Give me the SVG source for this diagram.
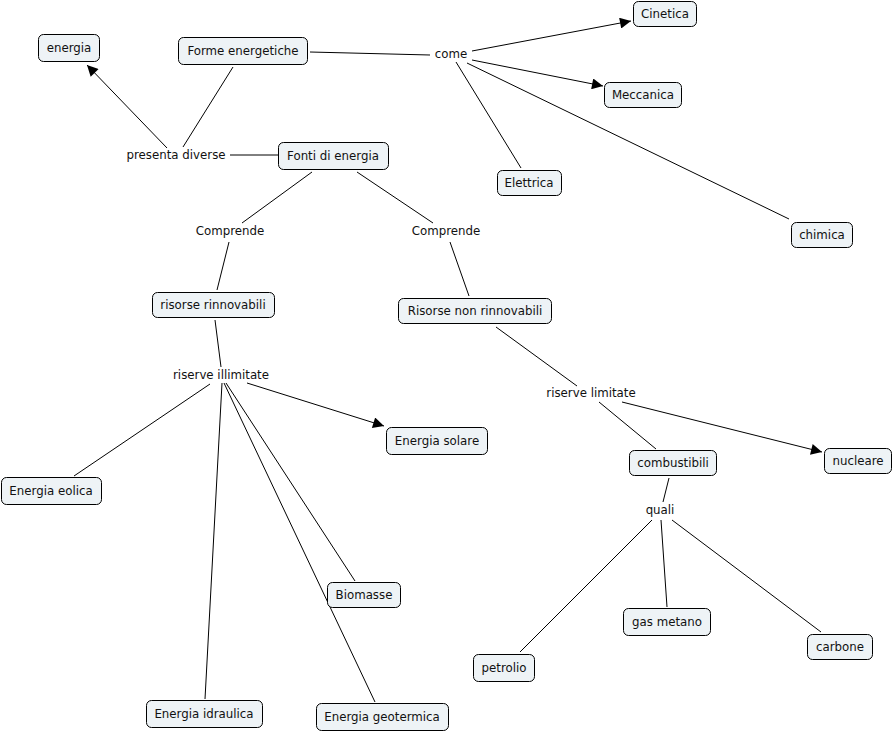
<svg xmlns="http://www.w3.org/2000/svg" width="894" height="732" viewBox="0 0 894 732">
<style>
.n rect{fill:#eef3f6;stroke:#000;stroke-width:1}
text{font-family:"DejaVu Sans",Verdana,sans-serif;font-size:11.8px;fill:#111;text-anchor:middle}
.c line{stroke:#000;stroke-width:1}
.a{marker-end:url(#ah)}
</style>
<defs>
<marker id="ah" viewBox="0 0 10 10" refX="10" refY="5" markerWidth="13" markerHeight="11" markerUnits="userSpaceOnUse" orient="auto">
<path d="M0,0 L10,5 L0,10 z" fill="#000"/>
</marker>
</defs>
<rect width="894" height="732" fill="#fff"/>
<g class="c" id="connectors">
<line x1="167" y1="148" x2="87" y2="65" class="a"/>
<line x1="233" y1="67" x2="183" y2="147"/>
<line x1="230" y1="155" x2="278" y2="155"/>
<line x1="310" y1="52" x2="430" y2="55"/>
<line x1="472" y1="51" x2="631" y2="21" class="a"/>
<line x1="472" y1="60" x2="603" y2="86" class="a"/>
<line x1="456" y1="62" x2="521" y2="168"/>
<line x1="467" y1="63" x2="789" y2="219"/>
<line x1="312" y1="172" x2="242" y2="223"/>
<line x1="357" y1="172" x2="433" y2="223"/>
<line x1="229" y1="242" x2="217" y2="290"/>
<line x1="450" y1="242" x2="469" y2="296"/>
<line x1="215" y1="320" x2="221" y2="367"/>
<line x1="210" y1="384" x2="74" y2="476"/>
<line x1="247" y1="383" x2="384" y2="426" class="a"/>
<line x1="222" y1="383" x2="205" y2="699"/>
<line x1="224" y1="383" x2="375" y2="702"/>
<line x1="226" y1="383" x2="355" y2="581"/>
<line x1="496" y1="327" x2="577" y2="386"/>
<line x1="599" y1="402" x2="656" y2="449"/>
<line x1="622" y1="402" x2="822" y2="452" class="a"/>
<line x1="669" y1="478" x2="663" y2="502"/>
<line x1="652" y1="520" x2="520" y2="652"/>
<line x1="661" y1="520" x2="667" y2="607"/>
<line x1="672" y1="520" x2="821" y2="632"/>
</g>
<g id="lbl-presenta"><text x="176" y="159">presenta diverse</text></g>
<g id="lbl-come"><text x="451" y="58">come</text></g>
<g id="lbl-comprende1"><text x="230" y="235">Comprende</text></g>
<g id="lbl-comprende2"><text x="446" y="235">Comprende</text></g>
<g id="lbl-illimitate"><text x="221" y="379">riserve illimitate</text></g>
<g id="lbl-limitate"><text x="591" y="397">riserve limitate</text></g>
<g id="lbl-quali"><text x="660" y="514">quali</text></g>
<g class="n" id="energia"><rect x="38.5" y="34.5" width="61" height="27" rx="5"/><text x="69" y="52">energia</text></g>
<g class="n" id="forme"><rect x="178.5" y="37.5" width="129" height="27" rx="5"/><text x="243" y="55">Forme energetiche</text></g>
<g class="n" id="fonti"><rect x="278.5" y="142.5" width="110" height="27" rx="5"/><text x="333" y="160">Fonti di energia</text></g>
<g class="n" id="cinetica"><rect x="633.5" y="1.5" width="63" height="25" rx="5"/><text x="665" y="18">Cinetica</text></g>
<g class="n" id="meccanica"><rect x="604.5" y="82.5" width="77" height="25" rx="5"/><text x="643" y="99">Meccanica</text></g>
<g class="n" id="elettrica"><rect x="497.5" y="170.5" width="64" height="25" rx="5"/><text x="529" y="187">Elettrica</text></g>
<g class="n" id="chimica"><rect x="791.5" y="222.5" width="61" height="25" rx="5"/><text x="822" y="239">chimica</text></g>
<g class="n" id="rinnovabili"><rect x="152.5" y="292.5" width="122" height="25" rx="5"/><text x="213" y="309">risorse rinnovabili</text></g>
<g class="n" id="nonrinnovabili"><rect x="398.5" y="298.5" width="153" height="25" rx="5"/><text x="475" y="315">Risorse non rinnovabili</text></g>
<g class="n" id="solare"><rect x="386.5" y="427.5" width="101" height="27" rx="5"/><text x="437" y="445">Energia solare</text></g>
<g class="n" id="eolica"><rect x="1.5" y="477.5" width="100" height="27" rx="5"/><text x="51" y="495">Energia eolica</text></g>
<g class="n" id="biomasse"><rect x="327.5" y="582.5" width="73" height="25" rx="5"/><text x="364" y="599">Biomasse</text></g>
<g class="n" id="idraulica"><rect x="146.5" y="700.5" width="116" height="27" rx="5"/><text x="204" y="718">Energia idraulica</text></g>
<g class="n" id="geotermica"><rect x="316.5" y="703.5" width="132" height="27" rx="5"/><text x="382" y="721">Energia geotermica</text></g>
<g class="n" id="combustibili"><rect x="629.5" y="450.5" width="87" height="25" rx="5"/><text x="673" y="467">combustibili</text></g>
<g class="n" id="nucleare"><rect x="824.5" y="448.5" width="67" height="25" rx="5"/><text x="858" y="465">nucleare</text></g>
<g class="n" id="gasmetano"><rect x="623.5" y="608.5" width="87" height="27" rx="5"/><text x="667" y="626">gas metano</text></g>
<g class="n" id="carbone"><rect x="807.5" y="634.5" width="65" height="25" rx="5"/><text x="840" y="651">carbone</text></g>
<g class="n" id="petrolio"><rect x="473.5" y="654.5" width="61" height="27" rx="5"/><text x="504" y="672">petrolio</text></g>
</svg>
